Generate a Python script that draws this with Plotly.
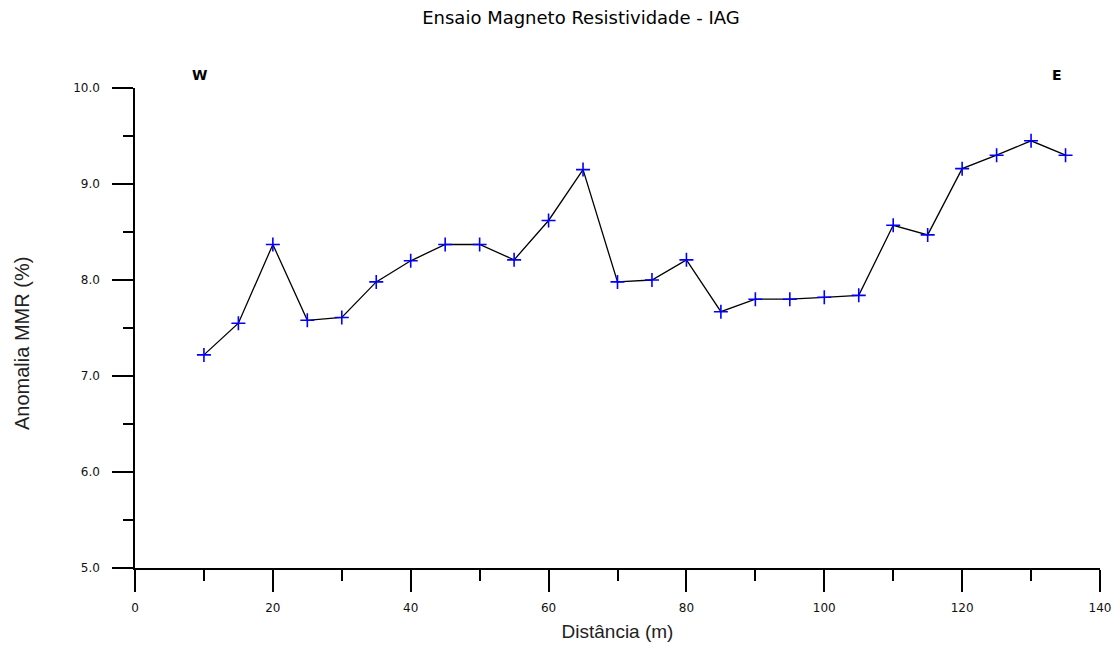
import plotly.graph_objects as go

distancia = [10, 15, 20, 25, 30, 35, 40, 45, 50, 55, 60, 65, 70,
             75, 80, 85, 90, 95, 100, 105, 110, 115, 120, 125, 130, 135]
anomalia = [7.22, 7.55, 8.37, 7.58, 7.61, 7.98, 8.20, 8.37, 8.37, 8.21, 8.62, 9.15, 7.98,
            8.00, 8.21, 7.67, 7.80, 7.80, 7.82, 7.84, 8.57, 8.47, 9.16, 9.30, 9.45, 9.30]

x_ticks = [0, 20, 40, 60, 80, 100, 120, 140]
y_ticks = [5.0, 6.0, 7.0, 8.0, 9.0, 10.0]

fig = go.Figure()
fig.add_trace(go.Scatter(
    x=distancia, y=anomalia, mode="lines+markers",
    line=dict(color="black", width=1.3),
    marker=dict(symbol="cross-thin", size=10, line=dict(color="#0000ff", width=1.6), color="#0000ff"),
    showlegend=False, cliponaxis=False,
))

tickfont = dict(family="DejaVu Sans", size=12, color="#111")

fig.update_layout(
    width=1120, height=645,
    margin=dict(l=127, r=28, t=80, b=85),
    paper_bgcolor="white", plot_bgcolor="white",
    title=dict(text="Ensaio Magneto Resistividade - IAG", x=573/1120, xanchor="center",
               xref="container", y=1 - 10/645, yanchor="middle", yref="container",
               font=dict(family="DejaVu Sans", size=18, color="black")),
    xaxis=dict(range=[0, 140], tickvals=x_ticks, ticks="outside", ticklen=22, tickwidth=1.5,
               tickcolor="black", showline=True, linecolor="black", linewidth=1.5,
               showgrid=False, zeroline=False, tickfont=tickfont, ticklabelstandoff=6,
               automargin=False,
               minor=dict(dtick=10, ticks="outside", ticklen=11, tickwidth=1.5, tickcolor="black", showgrid=False),
               title=dict(text="Distância (m)", standoff=11,
                          font=dict(family="Liberation Sans", size=19, color="#222"))),
    yaxis=dict(range=[5, 10], tickvals=y_ticks, tickformat=".1f", ticks="outside", ticklen=21,
               tickwidth=1.5, tickcolor="black", showline=True, linecolor="black", linewidth=1.5,
               showgrid=False, zeroline=False, tickfont=tickfont, ticklabelstandoff=10,
               automargin=False,
               minor=dict(dtick=0.5, ticks="outside", ticklen=10, tickwidth=1.5, tickcolor="black", showgrid=False)),
    annotations=[
        dict(text="Anomalia MMR (%)", x=(22 - 135) / 965, y=(568 - 344) / 480, xref="paper", yref="paper",
             xanchor="center", yanchor="middle", textangle=-90, showarrow=False,
             font=dict(family="Liberation Sans", size=20, color="#222")),
        dict(text="<b>W</b>", x=(199 - 135) / 965, y=1 + 13 / 480, xref="paper", yref="paper",
             xanchor="center", yanchor="middle",
             showarrow=False, font=dict(family="DejaVu Sans", size=14, color="black")),
        dict(text="<b>E</b>", x=(1057 - 135) / 965, y=1 + 13 / 480, xref="paper", yref="paper",
             xanchor="center", yanchor="middle",
             showarrow=False, font=dict(family="DejaVu Sans", size=14, color="black")),
    ],
)

fig.write_html("out.html")
